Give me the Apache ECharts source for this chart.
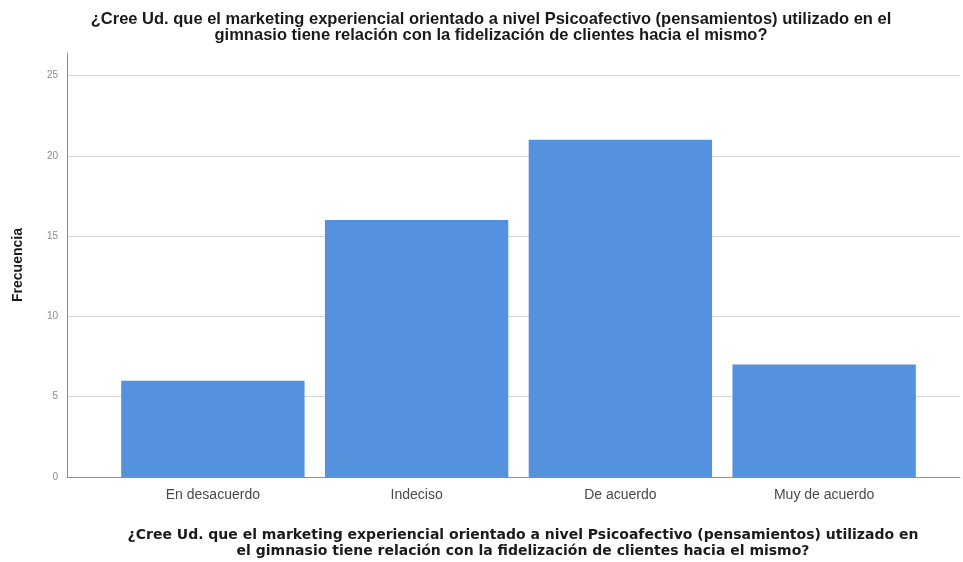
<!DOCTYPE html>
<html>
<head>
<meta charset="utf-8">
<script src="https://cdn.jsdelivr.net/npm/echarts@6/dist/echarts.min.js"></script>
<style>
  html, body { margin: 0; padding: 0; background: #ffffff; }
  #chart { width: 963px; height: 562px; }
</style>
</head>
<body>
<div id="chart"></div>
<script>
// Response categories and their counts
const categories = ['En desacuerdo', 'Indeciso', 'De acuerdo', 'Muy de acuerdo'];
const frecuencias = [6, 16, 21, 7];
const yTicks = { min: 0, max: 26.4, interval: 5 };

const question = '¿Cree Ud. que el marketing experiencial orientado a nivel Psicoafectivo (pensamientos) utilizado en el\ngimnasio tiene relación con la fidelización de clientes hacia el mismo?';
const axisQuestion = '¿Cree Ud. que el marketing experiencial orientado a nivel Psicoafectivo (pensamientos) utilizado en\nel gimnasio tiene relación con la fidelización de clientes hacia el mismo?';

const chart = echarts.init(document.getElementById('chart'), null, { renderer: 'canvas' });

// split line colours: one per tick, the top (axis max) line hidden
const splitColors = ['#d4d4d4', '#d4d4d4', '#d4d4d4', '#d4d4d4', '#d4d4d4', '#d4d4d4', 'rgba(0,0,0,0)'];

chart.setOption({
  backgroundColor: '#ffffff',
  animation: false,
  title: [
    {
      text: question,
      left: 486,
      top: 6,
      textAlign: 'center',
      textStyle: { fontFamily: 'Liberation Sans', fontWeight: 'bold', fontSize: 16.5, color: '#1a1a1a', lineHeight: 16 }
    },
    {
      text: axisQuestion,
      left: 518,
      top: 522,
      textAlign: 'center',
      textStyle: { fontFamily: 'DejaVu Sans', fontWeight: 'bold', fontSize: 14, color: '#1a1a1a', lineHeight: 16 }
    }
  ],
  grid: [
    // frame with value axis and gridlines
    { left: 67, right: 3, top: 53, bottom: 85 },
    // inner band holding the bars
    { left: 111, right: 37, top: 53, bottom: 85 }
  ],
  xAxis: [
    {
      gridIndex: 0,
      type: 'value',
      min: 0, max: 1,
      axisLine: { show: true, lineStyle: { color: '#8c8c8c', width: 1 } },
      axisTick: { show: false },
      axisLabel: { show: false },
      splitLine: { show: false }
    },
    {
      gridIndex: 1,
      type: 'category',
      data: categories,
      axisLine: { show: false },
      axisTick: { show: false },
      axisLabel: { margin: 11, fontFamily: 'Liberation Sans', fontSize: 14, color: '#4a4a4a' },
      splitLine: { show: false }
    }
  ],
  yAxis: [
    {
      gridIndex: 0,
      type: 'value',
      min: yTicks.min, max: yTicks.max, interval: yTicks.interval,
      name: 'Frecuencia',
      nameLocation: 'middle',
      nameGap: 42,
      nameTextStyle: { fontFamily: 'Liberation Sans', fontWeight: 'bold', fontSize: 14, color: '#1a1a1a' },
      axisLine: { show: true, lineStyle: { color: '#8c8c8c', width: 1 } },
      axisTick: { show: false },
      axisLabel: { showMaxLabel: false, margin: 9, fontFamily: 'Liberation Sans', fontSize: 10, color: '#8a8a8a' },
      splitLine: { show: true, lineStyle: { color: splitColors, width: 1 } }
    },
    {
      gridIndex: 1,
      type: 'value',
      min: yTicks.min, max: yTicks.max, interval: yTicks.interval,
      show: false,
      splitLine: { show: false }
    }
  ],
  series: [
    {
      type: 'bar',
      xAxisIndex: 1,
      yAxisIndex: 1,
      data: frecuencias,
      barCategoryGap: '10%',
      itemStyle: { color: '#5492de' }
    }
  ]
});
</script>
</body>
</html>
